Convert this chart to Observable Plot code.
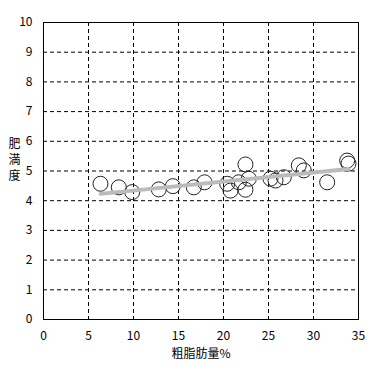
<!DOCTYPE html>
<html><head><meta charset="utf-8">
<script src="https://cdn.jsdelivr.net/npm/d3@7"></script>
<script src="https://cdn.jsdelivr.net/npm/@observablehq/plot@0.6"></script>
<style>body{margin:0;background:#fff;} svg{font-family:"Noto Sans CJK JP",sans-serif;}</style>
</head><body><div id="chart"></div>
<script>
const fat = [6.33, 8.37, 9.86, 12.81, 14.37, 16.7, 17.89, 20.41, 20.78, 21.7, 22.44, 22.81, 22.44, 25.22, 25.78, 26.7, 28.37, 28.92, 31.52, 33.74, 33.89];
const obesity = [4.57, 4.45, 4.29, 4.38, 4.49, 4.45, 4.62, 4.57, 4.34, 4.62, 4.37, 4.74, 5.22, 4.74, 4.68, 4.79, 5.19, 5.02, 4.62, 5.35, 5.25];
const trendX = [6.33, 33.9];
const trendY = [4.23, 5.07];
const xTicks = [0, 5, 10, 15, 20, 25, 30, 35];
const yTicks = [0, 1, 2, 3, 4, 5, 6, 7, 8, 9, 10];
const yLabelChars = ["肥", "満", "度"];

const pts = fat.map((x, i) => ({x, y: obesity[i]}));
const trend = trendX.map((x, i) => ({x, y: trendY[i]}));

const chart = Plot.plot({
  width: 375, height: 370,
  marginLeft: 43, marginRight: 17, marginTop: 22, marginBottom: 51,
  style: {fontSize: "12px", fontFamily: "'Noto Sans CJK JP', sans-serif", color: "#000"},
  x: {domain: [0, 35]},
  y: {domain: [0, 10]},
  marks: [
    Plot.gridX(xTicks.slice(1, -1), {stroke: "#000", strokeOpacity: 1, strokeDasharray: "4,3"}),
    Plot.gridY(yTicks.slice(1, -1), {stroke: "#000", strokeOpacity: 1, strokeDasharray: "4,3"}),
    Plot.frame({stroke: "#000"}),
    Plot.axisX(xTicks, {tickSize: 0, tickPadding: 12, label: "粗脂肪量%", labelAnchor: "center", labelArrow: "none", labelOffset: 38, fontSize: 12}),
    Plot.axisY(yTicks, {tickSize: 0, tickPadding: 11, label: null, fontSize: 12}),
    Plot.text([yLabelChars.join("\n")], {frameAnchor: "left", dx: -29, dy: -12, lineHeight: 1.32, fontSize: 12, fill: "#000", textAnchor: "middle"}),
    Plot.dot(pts, {x: "x", y: "y", r: 7.5, stroke: "#222", strokeWidth: 1, fill: "none"}),
    Plot.line(trend, {x: "x", y: "y", stroke: "#bbb", strokeWidth: 4})
  ]
});
document.getElementById("chart").append(chart);
</script>
</body></html>
